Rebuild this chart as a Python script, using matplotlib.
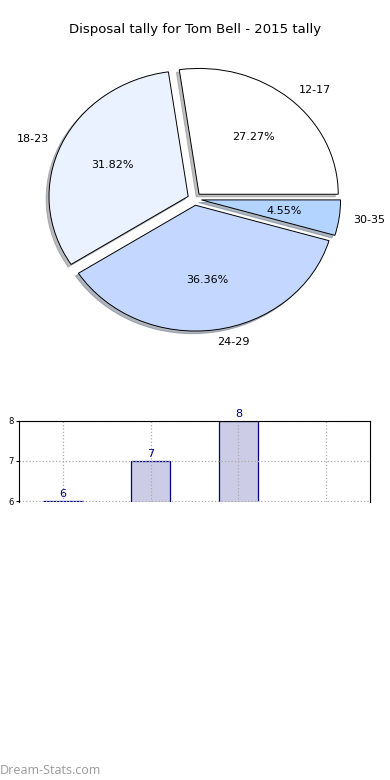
import numpy as np
import matplotlib
matplotlib.use("Agg")
import matplotlib.pyplot as plt

age_groups = ["12-17", "18-23", "24-29", "30-35"]
tally = [6, 7, 8, 1]
pie_colors = ["#ffffff", "#eaf1ff", "#c4d8ff", "#b3d4ff"]

W, H = 390, 780
fig = plt.figure(figsize=(W / 100, H / 100), dpi=100)
fig.patch.set_facecolor("white")

def px_axes(left, top, width, height):
    return fig.add_axes([left / W, 1 - (top + height) / H, width / W, height / H])

fig.text(195 / W, 1 - 30 / H, "Disposal tally for Tom Bell - 2015 tally",
         ha="center", va="center", fontsize=9.5)

# pie (slightly squashed, like the original)
cx, cy = 194.5, 199
ax = px_axes(cx - 167, cy - 151, 334, 302)
ax.pie(tally, labels=age_groups, colors=pie_colors, explode=[0.05] * 4,
       shadow={"ox": -0.015, "oy": -0.015, "shade": 0.5}, startangle=0,
       autopct="%.2f%%",
       wedgeprops=dict(edgecolor="black", linewidth=0.7),
       textprops=dict(fontsize=8))
ax.set_xlim(-1.2, 1.2)
ax.set_ylim(-1.2, 1.2)
ax.set_aspect("auto")

# bars
bx = px_axes(19, 421, 351, 81)
xs = np.arange(len(tally))
bars = bx.bar(xs, tally, width=0.45, color="#ccccE6", edgecolor="#000080",
              linewidth=0.9, zorder=2)
for x, v in zip(xs, tally):
    if v >= 6:
        bx.text(x, v + 0.06, str(v), ha="center", va="bottom", color="#000080",
                fontsize=8, clip_on=False)
bx.set_xlim(-0.5, 3.5)
bx.set_ylim(5.975, 8)
bx.set_yticks([6, 7, 8])
bx.set_xticks(xs)
bx.set_xticklabels([])
bx.tick_params(axis="x", length=0)
bx.tick_params(axis="y", labelsize=6, length=2, pad=2)
bx.grid(True, linestyle=":", color="#aaaaaa", linewidth=0.9, zorder=0)
bx.set_axisbelow(False)
bx.spines["bottom"].set_visible(False)
for sp in bx.spines.values():
    sp.set_zorder(4)

fig.text(0, 1 - 770 / H, "Dream-Stats.com", ha="left", va="center",
         fontsize=9, color="#999999", family="Open Sans")

fig.savefig("out.png", dpi=100, facecolor="white")
